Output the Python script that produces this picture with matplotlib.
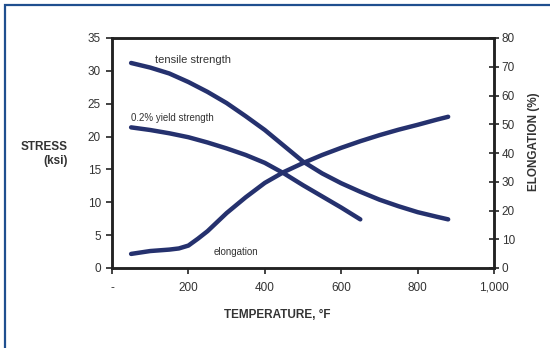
import matplotlib
matplotlib.use("Agg")
import matplotlib.pyplot as plt
from matplotlib.patches import Rectangle

plt.rcParams['font.family'] = ['Liberation Sans', 'DejaVu Sans']

# Data
tensile_temp = [50, 100, 150, 200, 250, 300, 350, 400, 450, 500, 550, 600, 650, 700, 750, 800, 850, 880]
tensile_ksi = [31.2, 30.5, 29.6, 28.3, 26.8, 25.1, 23.1, 21.0, 18.6, 16.2, 14.4, 12.9, 11.6, 10.4, 9.4, 8.5, 7.8, 7.4]

yield_temp = [50, 100, 150, 200, 250, 300, 350, 400, 450, 500, 550, 600, 650]
yield_ksi = [21.4, 21.0, 20.5, 19.9, 19.1, 18.2, 17.2, 16.0, 14.4, 12.6, 10.9, 9.2, 7.4]

elong_temp = [50, 100, 150, 175, 200, 225, 250, 300, 350, 400, 450, 500, 550, 600, 650, 700, 750, 800, 850, 880]
elong_pct = [4.9, 5.9, 6.4, 6.8, 7.8, 10.2, 12.8, 19.1, 24.6, 29.6, 33.4, 36.5, 39.3, 41.8, 44.1, 46.2, 48.1, 49.8, 51.6, 52.6]

x_ticks = [0, 200, 400, 600, 800, 1000]
x_ticklabels = ['-', '200', '400', '600', '800', '1,000']
y_left_ticks = [0, 5, 10, 15, 20, 25, 30, 35]
y_right_ticks = [0, 10, 20, 30, 40, 50, 60, 70, 80]

navy = '#25316e'
txt = '#333333'

fig = plt.figure(figsize=(5.5, 3.48), dpi=100)
fig.patch.set_facecolor('white')

# outer frame (partly visible, like the reference)
fig.patches.append(Rectangle((4.5/550, -0.1), 1.2, 1.1 - 5/348,
                             transform=fig.transFigure, fill=False,
                             edgecolor='#1f4f8f', linewidth=1.6))

ax = fig.add_axes([112/550, 80/348, 382/550, 230/348])
ax2 = ax.twinx()

style = dict(color=navy, lw=3.2, solid_capstyle='round', solid_joinstyle='round')
ax.plot(tensile_temp, tensile_ksi, **style)
ax.plot(yield_temp, yield_ksi, **style)
ax2.plot(elong_temp, elong_pct, **style)

ax.set_xlim(0, 1000)
ax.set_ylim(0, 35)
ax2.set_ylim(0, 80)

ax.set_xticks(x_ticks)
ax.set_xticklabels(x_ticklabels)
ax.set_yticks(y_left_ticks)
ax2.set_yticks(y_right_ticks)

for a in (ax, ax2):
    for s in a.spines.values():
        s.set_linewidth(1.8)
        s.set_color('#222222')

ax.tick_params(axis='x', direction='out', length=4, width=1.2, colors='#222222', labelcolor=txt, labelsize=8.5, pad=6)
ax.tick_params(axis='y', direction='out', length=4, width=1.2, colors='#222222', labelcolor=txt, labelsize=8.5, pad=4)
ax2.tick_params(axis='y', direction='inout', length=7, width=1.2, colors='#222222', labelcolor=txt, labelsize=8.5, pad=2)

ax.text(112, 31.65, 'tensile strength', fontsize=8, color=txt, va='center', ha='left')
ax.text(49, 22.9, '0.2% yield strength', fontsize=7, color=txt, va='center', ha='left')
ax.text(265, 2.4, 'elongation', fontsize=7, color=txt, va='center', ha='left')

fig.text(68/550, 1 - 154/348, 'STRESS\n(ksi)', fontsize=8.5, fontweight='bold', color=txt,
         ha='right', va='center', multialignment='right', linespacing=1.3)
fig.text(277/550, 1 - 315/348, 'TEMPERATURE, °F', fontsize=8.5, fontweight='bold', color=txt,
         ha='center', va='center')
fig.text(534/550, 1 - 142/348, 'ELONGATION (%)', fontsize=8.5, fontweight='bold', color=txt,
         ha='center', va='center', rotation=90)

fig.savefig('out.png', dpi=100, facecolor='white')
